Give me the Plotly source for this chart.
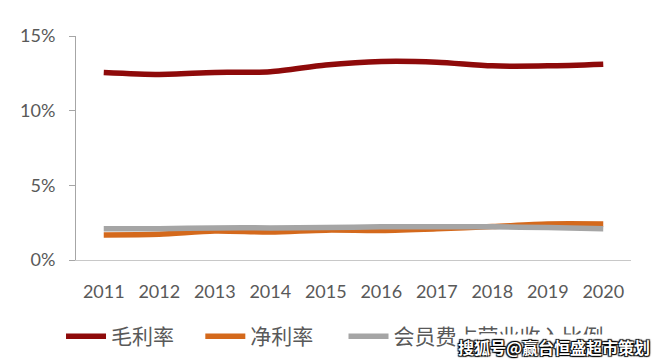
import plotly.graph_objects as go

years = ["2011", "2012", "2013", "2014", "2015", "2016", "2017", "2018", "2019", "2020"]
gross_margin = [12.56, 12.43, 12.56, 12.60, 13.06, 13.30, 13.25, 13.00, 13.00, 13.11]
net_margin = [1.68, 1.72, 1.94, 1.87, 2.00, 1.98, 2.09, 2.24, 2.41, 2.41]
fee_ratio = [2.09, 2.09, 2.15, 2.15, 2.17, 2.22, 2.22, 2.22, 2.17, 2.09]

series_names = ["毛利率", "净利率", "会员费占营业收入比例"]
colors = ["#8E0A0A", "#D4691C", "#A5A5A5"]
legend_ids = ["legend", "legend2", "legend3"]

fig = go.Figure()
for name, vals, col, lg in zip(series_names, [gross_margin, net_margin, fee_ratio], colors, legend_ids):
    fig.add_trace(go.Scatter(
        x=years, y=vals, name=name, mode="lines", legend=lg,
        line=dict(color=col, width=5.5, shape="spline", smoothing=0.8),
    ))

font_family = "Lato, 'Noto Sans CJK SC', sans-serif"
legend_style = dict(orientation="h", xanchor="left", y=-0.25, yanchor="top",
                    font=dict(size=21, color="#595959"), itemwidth=40,
                    bgcolor="rgba(0,0,0,0)")
fig.update_layout(
    width=660, height=361,
    margin=dict(l=65, r=37, t=28, b=101),
    paper_bgcolor="white", plot_bgcolor="white",
    font=dict(family=font_family, size=18, color="#595959"),
    showlegend=True,
    legend=dict(x=-0.027, **legend_style),
    legend2=dict(x=0.224, **legend_style),
    legend3=dict(x=0.482, **legend_style),
    xaxis=dict(range=[-0.5, 9.5], showgrid=False, showline=True, linecolor="#C8C8C8", linewidth=1,
               ticks="outside", ticklen=15, tickcolor="rgba(0,0,0,0)",
               tickfont=dict(size=18, color="#595959")),
    yaxis=dict(range=[0, 15], dtick=5, ticksuffix="%", showgrid=False, zeroline=False,
               showline=True, linecolor="#A6A6A6", linewidth=1, ticks="outside",
               ticklen=6, tickcolor="#A6A6A6", ticklabelstandoff=10,
               tickfont=dict(size=18, color="#595959")),
)
fig.add_annotation(
    text="<b>搜狐号@赢台恒盛超市策划</b>", xref="paper", yref="paper",
    x=1.036, y=-0.33, xanchor="right", yanchor="top", showarrow=False,
    bgcolor="white", borderpad=0,
    font=dict(family="'Noto Sans CJK SC', sans-serif", size=16, color="white",
              shadow="1px 1px 1px black, -1px -1px 1px black, 1px -1px 1px black, -1px 1px 1px black"),
)
fig.write_html("out.html")
